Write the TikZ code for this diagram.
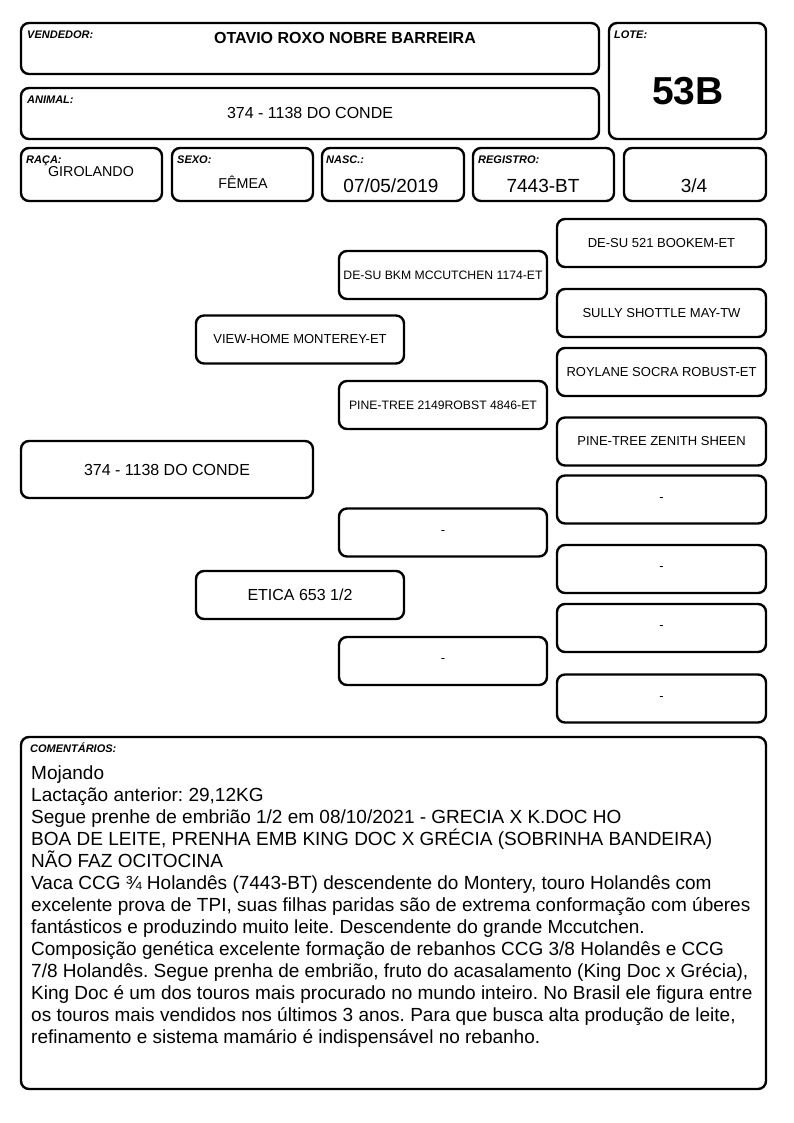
\documentclass[tikz,border=0pt]{standalone}
\usepackage{fontspec}
\setmainfont{Liberation Sans}
\usepackage{tikz}
\usetikzlibrary{positioning}
\frenchspacing
\newcommand\fsz[1]{\fontsize{#1}{#1}\selectfont}
\tikzstyle{card}=[draw,line width=2.4pt,rounded corners=8pt,inner sep=0pt]
\tikzstyle{lbl}=[inner sep=0pt,anchor=base west,font=\fsz{11}\bfseries\itshape]
\tikzstyle{val}=[inner sep=0pt,anchor=base]
\tikzstyle{ped}=[card,minimum width=208,minimum height=48,font=\fsz{13}]
\tikzstyle{pedl}=[ped,font=\fsz{12.2}]

\begin{document}
\begin{tikzpicture}[x=1pt,y=-1pt]
	\useasboundingbox (0,0) rectangle (794,1123);
	% header
	\node[card,minimum width=578,minimum height=51] (vend) at (310,48.5) {};
	\node[card,minimum width=157,minimum height=116] (lote) at (687.5,81) {};
	\node[card,minimum width=578,minimum height=51] (anim) at (310,113.5) {};
	\node[card,minimum width=141,minimum height=53] (raca) at (91.5,174.5) {};
	\node[card,minimum width=141,minimum height=53] (sexo) at (242.5,174.5) {};
	\node[card,minimum width=142,minimum height=53] (nasc) at (393,174.5) {};
	\node[card,minimum width=141,minimum height=53] (regi) at (543.5,174.5) {};
	\node[card,minimum width=142,minimum height=53] (frac) at (695,174.5) {};
	\node[lbl] (vendl) at (27,39) {VENDEDOR:};
	\node[lbl] (lotel) at (614,39) {LOTE:};
	\node[lbl] (animl) at (27,104) {ANIMAL:};
	\node[lbl] (racal) at (26,164) {RAÇA:};
	\node[lbl] (sexol) at (177,164) {SEXO:};
	\node[lbl] (nascl) at (326,164) {NASC.:};
	\node[lbl] (regil) at (478,164) {REGISTRO:};
	\node[val,font=\fsz{16}\bfseries] (vendv) at (345,44) {OTAVIO ROXO NOBRE BARREIRA};
	\node[val,font=\fsz{39}\bfseries] (lotev) at (688,105) {53B};
	\node[val,font=\fsz{16}] (animv) at (310,119) {374 - 1138 DO CONDE};
	\node[val,font=\fsz{14.3}] (racav) at (91,177) {GIROLANDO};
	\node[val,font=\fsz{14.3}] (sexov) at (243,189) {FÊMEA};
	\node[val,font=\fsz{19}] (nascv) at (391,193) {07/05/2019};
	\node[val,font=\fsz{19}] (regiv) at (543,193) {7443-BT};
	\node[val,font=\fsz{19}] (fracv) at (694,193) {3/4};
	% pedigree
	\node[ped,minimum width=292,minimum height=57,font=\fsz{16}] (pa) at (167,469.5) {374 - 1138 DO CONDE};
	\node[ped] (pb) at (300,339.5) {VIEW-HOME MONTEREY-ET};
	\node[ped,font=\fsz{16}] (pc) at (300,595) {ETICA 653 1/2};
	\node[pedl] (pbb) at (443,275) {DE-SU BKM MCCUTCHEN 1174-ET};
	\node[pedl] (pbc) at (443,405) {PINE-TREE 2149ROBST 4846-ET};
	\node[ped] (pcb) at (443,532.5) {-};
	\node[ped] (pcc) at (443,661) {-};
	\node[ped,minimum width=209] (g1) at (661.5,243) {DE-SU 521 BOOKEM-ET};
	\node[ped,minimum width=209] (g2) at (661.5,313) {SULLY SHOTTLE MAY-TW};
	\node[ped,minimum width=209] (g3) at (661.5,372) {ROYLANE SOCRA ROBUST-ET};
	\node[ped,minimum width=209] (g4) at (661.5,441.5) {PINE-TREE ZENITH SHEEN};
	\node[ped,minimum width=209] (g5) at (661.5,499.5) {-};
	\node[ped,minimum width=209] (g6) at (661.5,569) {-};
	\node[ped,minimum width=209] (g7) at (661.5,628) {-};
	\node[ped,minimum width=209] (g8) at (661.5,698.5) {-};
	% comments
	\node[card,minimum width=745,minimum height=352] (com) at (393.5,913) {};
	\node[lbl] (coml) at (30,752) {COMENTÁRIOS:};
	\node[inner sep=0pt,anchor=north west,align=left,font=\fontsize{19}{22}\selectfont] (comt) at (31,765.5) {Mojando\\
Lactação anterior: 29,12KG\\
Segue prenhe de embrião 1/2 em 08/10/2021 - GRECIA X K.DOC HO\\
BOA DE LEITE, PRENHA EMB KING DOC X GRÉCIA (SOBRINHA BANDEIRA)\\
NÃO FAZ OCITOCINA\\
Vaca CCG ¾ Holandês (7443-BT) descendente do Montery, touro Holandês com\\
excelente prova de TPI, suas filhas paridas são de extrema conformação com úberes\\
fantásticos e produzindo muito leite. Descendente do grande Mccutchen.\\
Composição genética excelente formação de rebanhos CCG 3/8 Holandês e CCG\\
7/8 Holandês. Segue prenha de embrião, fruto do acasalamento (King Doc x Grécia),\\
King Doc é um dos touros mais procurado no mundo inteiro. No Brasil ele figura entre\\
os touros mais vendidos nos últimos 3 anos. Para que busca alta produção de leite,\\
refinamento e sistema mamário é indispensável no rebanho.};
\end{tikzpicture}
\end{document}
